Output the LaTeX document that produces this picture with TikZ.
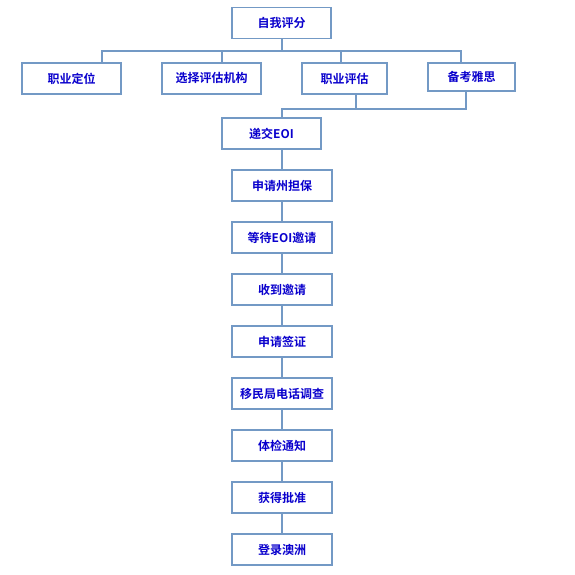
\documentclass[tikz,border=0pt]{standalone}
\usepackage{fontspec}
\newfontfamily\cjk{Noto Sans CJK SC}[BoldFont={Noto Sans CJK SC Bold}]
\definecolor{txtblue}{RGB}{10,0,205}
\definecolor{edgeblue}{RGB}{115,153,197}
\tikzset{
  box/.style={draw=edgeblue, line width=1.3pt, fill=white, inner sep=0pt,
    font=\cjk\bfseries\fontsize{12}{14}\selectfont, text=txtblue},
  link/.style={draw=edgeblue, line width=1.2pt}
}
\begin{document}
\begin{tikzpicture}[x=1pt,y=-1pt]
\useasboundingbox (0,0) rectangle (575,575);
% helper: box from corners
\newcommand{\mybox}[6]{\node[box, minimum width=#4-#2, minimum height=#5-#3] (#1) at ({(#2+#4)/2},{(#3+#5)/2}) {#6};}
\mybox{top}{232}{7.5}{331}{38.5}{自我评分}
\mybox{zydw}{22}{63}{121}{94}{职业定位}
\mybox{xzpg}{162}{63}{261}{94}{选择评估机构}
\mybox{zypg}{302}{63}{387}{94}{职业评估}
\mybox{bkys}{428}{63}{515}{91}{备考雅思}
\mybox{eoi}{222}{118}{321}{149}{递交EOI}
\mybox{zdb}{232}{170}{332}{201}{申请州担保}
\mybox{ddyq}{232}{222}{332}{253}{等待EOI邀请}
\mybox{sdyq}{232}{274}{332}{305}{收到邀请}
\mybox{sqqz}{232}{326}{332}{357}{申请签证}
\mybox{dhdc}{232}{378}{332}{409}{移民局电话调查}
\mybox{tjtz}{232}{430}{332}{461}{体检通知}
\mybox{hdpz}{232}{482}{332}{513}{获得批准}
\mybox{dlaz}{232}{534}{332}{565}{登录澳洲}
% tree from top
\coordinate (j1) at (282,51);
\draw[link] (top.south -| j1) -- (j1);
\draw[link] (102,94 |- zydw.north) -- (102,51) -- (461,51) -- (461,63);
\draw[link] (222,51) -- (222,63);
\draw[link] (341,51) -- (341,63);
% merge into EOI
\coordinate (j2) at (282,109);
\draw[link] (356,94) -- (356,109);
\draw[link] (466,91) -- (466,109) -- (j2) -- (eoi.north -| j2);
% chain
\draw[link] (eoi.south -| j2) -- (zdb.north -| j2);
\draw[link] (zdb.south -| j2) -- (ddyq.north -| j2);
\draw[link] (ddyq.south -| j2) -- (sdyq.north -| j2);
\draw[link] (sdyq.south -| j2) -- (sqqz.north -| j2);
\draw[link] (sqqz.south -| j2) -- (dhdc.north -| j2);
\draw[link] (dhdc.south -| j2) -- (tjtz.north -| j2);
\draw[link] (tjtz.south -| j2) -- (hdpz.north -| j2);
\draw[link] (hdpz.south -| j2) -- (dlaz.north -| j2);
\end{tikzpicture}
\end{document}
